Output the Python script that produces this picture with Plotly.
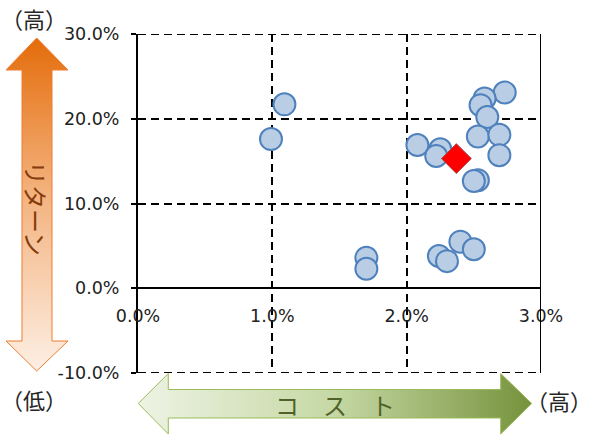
import plotly.graph_objects as go

# ---- data (percent) ----
cost_pct = [0.99, 1.09, 1.70, 1.70, 2.73, 2.58, 2.55, 2.60, 2.53, 2.69,
            2.69, 2.08, 2.25, 2.22, 2.53, 2.50, 2.40, 2.50, 2.24, 2.30]
return_pct = [17.6, 21.7, 3.6, 2.3, 23.1, 22.4, 21.6, 20.2, 17.9, 18.1,
              15.7, 16.9, 16.4, 15.6, 12.75, 12.65, 5.5, 4.6, 3.8, 3.2]
highlight_cost = [2.37]
highlight_return = [15.3]

x_ticks = [0.0, 1.0, 2.0, 3.0]
x_tick_labels = ["0.0%", "1.0%", "2.0%", "3.0%"]
y_ticks = [-10.0, 0.0, 10.0, 20.0, 30.0]
y_tick_labels = ["-10.0%", "0.0%", "10.0%", "20.0%", "30.0%"]

W, H = 593, 437
# plot area in pixels
PL, PR, PT, PB = 138, 541, 34, 373
xdom = [PL / W, PR / W]
ydom = [(H - PB) / H, (H - PT) / H]
y_min, y_max = -10.0, 30.0
x_axis_pos = ydom[0] + (0 - y_min) / (y_max - y_min) * (ydom[1] - ydom[0])

fig = go.Figure()

# ---- decorative arrows on a full-page overlay (pixel coordinates) ----
v_arrow_x = [36.7, 68, 52, 52, 68, 36.7, 6, 22, 22, 6, 36.7]
v_arrow_y = [38, 70, 70, 341, 341, 371, 341, 341, 70, 70, 38]
h_arrow_x = [138.3, 168.3, 168.3, 500.7, 500.7, 531.7, 500.7, 500.7, 168.3, 168.3, 138.3]
h_arrow_y = [403.5, 373.5, 389.5, 389.5, 373.5, 403.5, 434, 418, 418, 434, 403.5]

fig.add_trace(go.Scatter(
    x=v_arrow_x, y=v_arrow_y, xaxis="x2", yaxis="y2",
    mode="lines", fill="toself",
    line=dict(color="#ED7D31", width=1),
    fillgradient=dict(type="vertical", start=38, stop=371,
                      colorscale=[[0, "#E46C0A"], [0.45, "#F3B07A"], [1, "#FDEFE4"]]),
    hoverinfo="skip", showlegend=False))
fig.add_trace(go.Scatter(
    x=h_arrow_x, y=h_arrow_y, xaxis="x2", yaxis="y2",
    mode="lines", fill="toself",
    line=dict(color="#9BBB59", width=1),
    fillgradient=dict(type="horizontal", start=138, stop=532,
                      colorscale=[[0, "#EEF3E4"], [0.5, "#C5D8A4"], [1, "#76923C"]]),
    hoverinfo="skip", showlegend=False))

# ---- data marks ----
fig.add_trace(go.Scatter(
    x=cost_pct, y=return_pct, mode="markers",
    marker=dict(size=22, color="#B9CDE5", line=dict(color="#4F81BD", width=2)),
    showlegend=False))
fig.add_trace(go.Scatter(
    x=highlight_cost, y=highlight_return, mode="markers",
    marker=dict(symbol="diamond", size=23, color="#FF0000",
                line=dict(color="#A05050", width=1)),
    showlegend=False))

tick_font = dict(family="DejaVu Sans", size=17.5, color="#222222")
jp = "Noto Sans CJK JP"

fig.update_layout(
    width=W, height=H,
    margin=dict(l=0, r=0, t=0, b=0, autoexpand=False),
    paper_bgcolor="white", plot_bgcolor="rgba(0,0,0,0)",
    xaxis=dict(domain=xdom, range=[0, 3], anchor="free", position=x_axis_pos,
               tickvals=x_ticks, ticktext=x_tick_labels,
               showline=True, linecolor="black", linewidth=2,
               ticks="", ticklabelstandoff=12, tickfont=tick_font,
               showgrid=True, gridcolor="black", gridwidth=2, griddash="8px,5px",
               zeroline=False, fixedrange=True, automargin=False),
    yaxis=dict(domain=ydom, range=[y_min, y_max], anchor="x",
               tickvals=y_ticks, ticktext=y_tick_labels,
               showline=True, linecolor="black", linewidth=2,
               ticks="outside", ticklen=5, tickwidth=2, tickcolor="black",
               ticklabelstandoff=8, tickfont=tick_font,
               showgrid=True, gridcolor="black", gridwidth=2, griddash="8px,5px",
               zeroline=False, fixedrange=True, automargin=False),
    xaxis2=dict(domain=[0, 1], range=[0, W], anchor="y2", visible=False, fixedrange=True),
    yaxis2=dict(domain=[0, 1], range=[H, 0], anchor="x2", visible=False, fixedrange=True),
    shapes=[
        dict(type="line", xref="x", yref="y", x0=3, x1=3, y0=y_min, y1=y_max,
             line=dict(color="black", width=2)),
        dict(type="line", xref="x", yref="y", x0=0, x1=3, y0=y_max, y1=y_max,
             line=dict(color="black", width=2, dash="8px,5px")),
        dict(type="line", xref="x", yref="y", x0=0, x1=3, y0=y_min, y1=y_min,
             line=dict(color="black", width=2, dash="8px,5px")),
    ],
    annotations=[
        dict(text="（高）", x=34, y=18, xref="x2", yref="y2", showarrow=False,
             font=dict(family=jp, size=22, color="#262626")),
        dict(text="（低）", x=34, y=399, xref="x2", yref="y2", showarrow=False,
             font=dict(family=jp, size=22, color="#262626")),
        dict(text="（高）", x=559, y=400, xref="x2", yref="y2", showarrow=False,
             font=dict(family=jp, size=22, color="#262626")),
        dict(text="リターン", x=37, y=208, xref="x2", yref="y2", showarrow=False,
             textangle=90,
             font=dict(family=jp, size=24, color="#843C0C")),
        dict(text="コ　ス　ト", x=335, y=404, xref="x2", yref="y2", showarrow=False,
             font=dict(family=jp, size=24, color="#4F6228")),
    ],
)

fig.write_html("out.html", config={"displayModeBar": False},
               post_script="document.body.style.margin='0';")
